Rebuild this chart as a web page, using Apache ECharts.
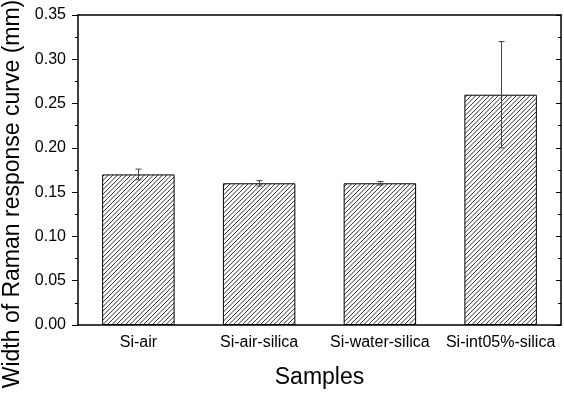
<!DOCTYPE html>
<html>
<head>
<meta charset="utf-8">
<script src="https://cdn.jsdelivr.net/npm/echarts@6/dist/echarts.min.js"></script>
<style>
  html, body { margin: 0; padding: 0; background: #fff; }
  #chart { width: 564px; height: 403px; }
</style>
</head>
<body>
<div id="chart"></div>
<script>
const categories = ['Si-air', 'Si-air-silica', 'Si-water-silica', 'Si-int05%-silica']
const widths = [0.17, 0.16, 0.16, 0.26]
const errors = [0.006, 0.003, 0.002, 0.06]
const yTicks = [0, 0.05, 0.1, 0.15, 0.2, 0.25, 0.3, 0.35]

const font = 'Liberation Sans'

// hatch pattern "////"
function makeHatch() {
  const s = 9
  const c = document.createElement('canvas')
  c.width = s
  c.height = s
  const ctx = c.getContext('2d')
  ctx.fillStyle = '#fff'
  ctx.fillRect(0, 0, s, s)
  ctx.strokeStyle = '#333'
  ctx.lineWidth = 1
  for (let k = -4; k <= 6; k++) {
    const cc = k * 4.5
    ctx.beginPath()
    ctx.moveTo(cc, 0)
    ctx.lineTo(cc - s, s)
    ctx.stroke()
  }
  return c
}

const errData = widths.map((v, i) => [i, v - errors[i], v + errors[i]])

const chart = echarts.init(document.getElementById('chart'))

const lineStyle = { color: '#000', width: 1.5 }

const option = {
  animation: false,
  grid: { left: 78, right: 3, top: 15, bottom: 78, containLabel: false, outerBoundsMode: 'none' },
  xAxis: [
    {
      type: 'category',
      data: categories,
      position: 'bottom',
      axisLine: { lineStyle },
      axisTick: { alignWithLabel: true, length: 5, lineStyle: { color: '#000' } },
      axisLabel: { color: '#000', fontFamily: font, fontSize: 16, margin: 10, interval: 0, hideOverlap: false },
      name: 'Samples',
      nameLocation: 'middle',
      nameGap: 41,
      nameTextStyle: { color: '#000', fontFamily: font, fontSize: 23 }
    },
    {
      type: 'category',
      data: categories,
      position: 'bottom',
      axisLine: { show: false },
      axisTick: { length: 3, lineStyle: { color: '#000' } },
      axisLabel: { show: false }
    },
    {
      type: 'category',
      data: categories,
      position: 'top',
      axisLine: { lineStyle },
      axisTick: { alignWithLabel: true, inside: true, length: 5, lineStyle: { color: '#000' } },
      axisLabel: { show: false }
    },
    {
      type: 'category',
      data: categories,
      position: 'top',
      axisLine: { show: false },
      axisTick: { inside: true, length: 3, lineStyle: { color: '#000' } },
      axisLabel: { show: false }
    }
  ],
  yAxis: [
    {
      type: 'value',
      min: yTicks[0],
      max: yTicks[yTicks.length - 1],
      interval: 0.05,
      axisLine: { show: true, lineStyle },
      axisTick: { show: true, length: 6, lineStyle: { color: '#000' } },
      minorTick: { show: true, splitNumber: 2, length: 3, lineStyle: { color: '#000' } },
      splitLine: { show: false },
      axisLabel: {
        color: '#000', fontFamily: font, fontSize: 16, margin: 12,
        formatter: v => v.toFixed(2)
      },
      name: 'Width of Raman response curve (mm)',
      nameLocation: 'middle',
      nameGap: 54,
      nameTextStyle: { color: '#000', fontFamily: font, fontSize: 23, padding: [0, 48, 0, 0] }
    },
    {
      type: 'value',
      position: 'right',
      min: yTicks[0],
      max: yTicks[yTicks.length - 1],
      interval: 0.05,
      axisLine: { show: true, lineStyle },
      axisTick: { show: true, inside: true, length: 5, lineStyle: { color: '#000' } },
      minorTick: { show: true, splitNumber: 2, length: 3, lineStyle: { color: '#000' } },
      splitLine: { show: false },
      axisLabel: { show: false }
    }
  ],
  series: [
    {
      type: 'bar',
      data: widths,
      barWidth: '60%',
      itemStyle: {
        color: { image: makeHatch(), repeat: 'repeat' },
        borderColor: '#000',
        borderWidth: 1
      }
    },
    {
      type: 'custom',
      data: errData,
      z: 5,
      renderItem: (params, api) => {
        const lo = api.coord([api.value(0), api.value(1)])
        const hi = api.coord([api.value(0), api.value(2)])
        const x = Math.round(lo[0]) + 0.5
        const cap = 3
        const st = { stroke: '#444', lineWidth: 1 }
        return {
          type: 'group',
          children: [
            { type: 'line', shape: { x1: x, y1: lo[1], x2: x, y2: hi[1] }, style: st },
            { type: 'line', shape: { x1: x - cap, y1: hi[1], x2: x + cap, y2: hi[1] }, style: st },
            { type: 'line', shape: { x1: x - cap, y1: lo[1], x2: x + cap, y2: lo[1] }, style: st }
          ]
        }
      }
    }
  ]
}

chart.setOption(option)
</script>
</body>
</html>
